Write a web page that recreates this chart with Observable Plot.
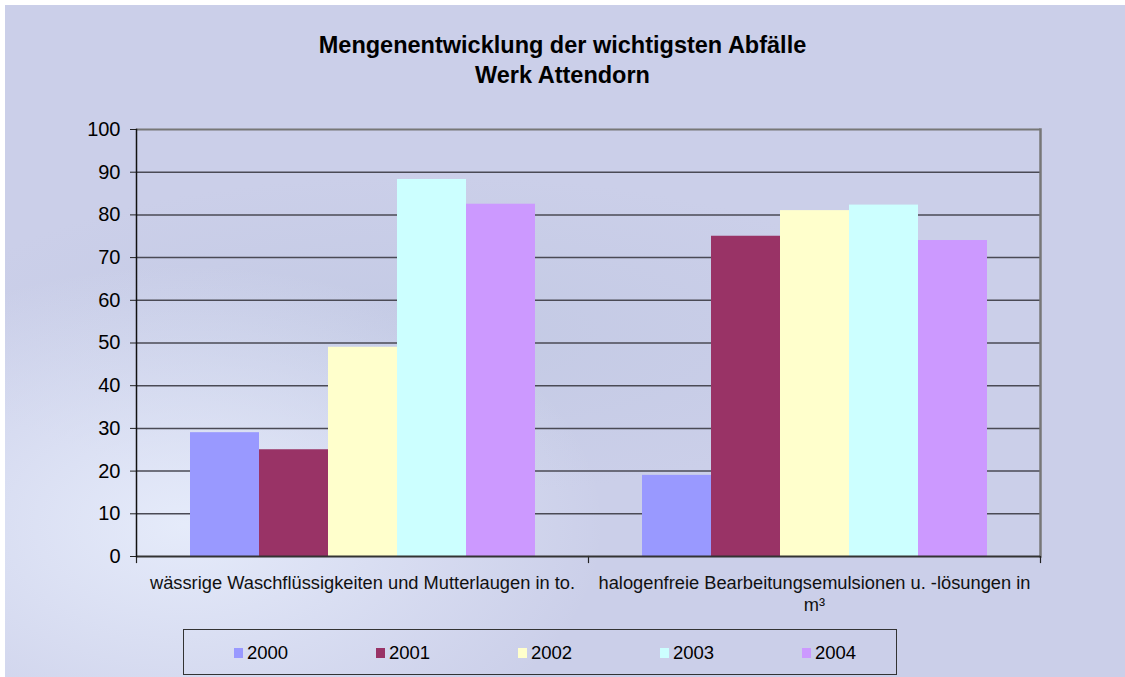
<!DOCTYPE html>
<html>
<head>
<meta charset="utf-8">
<script src="https://cdn.jsdelivr.net/npm/d3@7"></script>
<script src="https://cdn.jsdelivr.net/npm/@observablehq/plot@0.6"></script>
<style>
  html, body { margin: 0; padding: 0; background: #ffffff; }
  #page {
    position: absolute; left: 5px; top: 5px; width: 1120px; height: 672px; overflow: hidden;
    background:
      radial-gradient(ellipse 420px 260px at 180px 520px, rgba(232,238,252,0.9), rgba(232,238,252,0) 100%),
      radial-gradient(ellipse 500px 160px at 420px 330px, rgba(190,198,225,0.6), rgba(190,198,225,0) 100%),
      #cbcfe9;
    font-family: "Liberation Sans", Arial, sans-serif;
  }
  #title {
    position: absolute; left: -5px; top: -5px; width: 1125px; padding-top: 30px;
    text-align: center; font-weight: bold; font-size: 23.5px; line-height: 30px; color: #000;
  }
  #chart { position: absolute; left: -5px; top: 85px; }
  #legend {
    position: absolute; left: 178px; top: 624px; width: 714px; height: 46px;
    border: 1px solid #333; box-sizing: border-box;
  }
  .item { position: absolute; top: 12px; font-size: 18.5px; line-height: 22px; color: #000; }
  .sw { display: inline-block; width: 9px; height: 10px; margin-right: 4px; vertical-align: 1px; }
</style>
</head>
<body>
<div id="page">
  <div id="title">Mengenentwicklung der wichtigsten Abfälle<br>Werk Attendorn</div>
  <div id="chart"></div>
  <div id="legend"></div>
</div>
<script>
const categories = [
  "wässrige Waschflüssigkeiten und Mutterlaugen in to.",
  "halogenfreie Bearbeitungsemulsionen u. -lösungen in m³"
];
const categoryLabels = [
  "wässrige Waschflüssigkeiten und Mutterlaugen in to.",
  "halogenfreie Bearbeitungsemulsionen u. -lösungen in\nm³"
];
const years = ["2000", "2001", "2002", "2003", "2004"];
const colors = ["#9999ff", "#993366", "#ffffcc", "#ccffff", "#cc99ff"];
const values2000 = [29, 19];
const values2001 = [25, 75];
const values2002 = [49, 81];
const values2003 = [88.3, 82.3];
const values2004 = [82.5, 74];
const yTicks = [0, 10, 20, 30, 40, 50, 60, 70, 80, 90, 100];

const series = [values2000, values2001, values2002, values2003, values2004];
const data = [];
categories.forEach((c, i) => years.forEach((y, j) => data.push({cat: c, year: y, value: series[j][i]})));

const chart = Plot.plot({
  width: 1125,
  height: 535,
  marginTop: 39,
  marginLeft: 135,
  marginRight: 85,
  marginBottom: 69,
  style: {background: "transparent", fontFamily: "'Liberation Sans', Arial, sans-serif"},
  fx: {domain: categories, padding: 0, label: null, axis: null},
  x: {domain: years, paddingInner: 0, paddingOuter: 0.73, axis: null},
  y: {domain: [0, 100], label: null},
  color: {domain: years, range: colors},
  marks: [
    Plot.ruleY(yTicks.filter(t => t > 0 && t < 100), {stroke: "#4a4a55", strokeWidth: 1.5}),
    Plot.ruleY([100], {stroke: "#777", strokeWidth: 2}),
    Plot.barY(data, {fx: "cat", x: "year", y: "value", fill: "year"}),
    Plot.frame({anchor: "right", facetAnchor: "right", stroke: "#777", strokeWidth: 2.5}),
    Plot.frame({anchor: "left", insetTop: 427, insetBottom: -6, stroke: "#222", strokeWidth: 1.2}),
    Plot.frame({anchor: "right", facetAnchor: "right", insetTop: 427, insetBottom: -6, stroke: "#222", strokeWidth: 1.2}),
    Plot.ruleY([0], {stroke: "#333", strokeWidth: 2}),
    Plot.axisY({ticks: yTicks, tickSize: 6, tickPadding: 10, fontSize: 20, fill: "#000", stroke: "#222", label: null, facetAnchor: "left"}),
    Plot.frame({anchor: "left", facetAnchor: "left", stroke: "#111", strokeWidth: 1.5}),
    Plot.axisFx({anchor: "bottom", tickSize: 0, tickPadding: 17, fontSize: 18.3, fill: "#111", label: null, lineHeight: 1.2,
      tickFormat: d => categoryLabels[categories.indexOf(d)]})
  ]
});
document.getElementById("chart").appendChild(chart);

const legend = document.getElementById("legend");
years.forEach((y, j) => {
  const el = document.createElement("div");
  el.className = "item";
  el.style.left = (50 + j * 142) + "px";
  el.innerHTML = `<span class="sw" style="background:${colors[j]}"></span>${y}`;
  legend.appendChild(el);
});
</script>
</body>
</html>
